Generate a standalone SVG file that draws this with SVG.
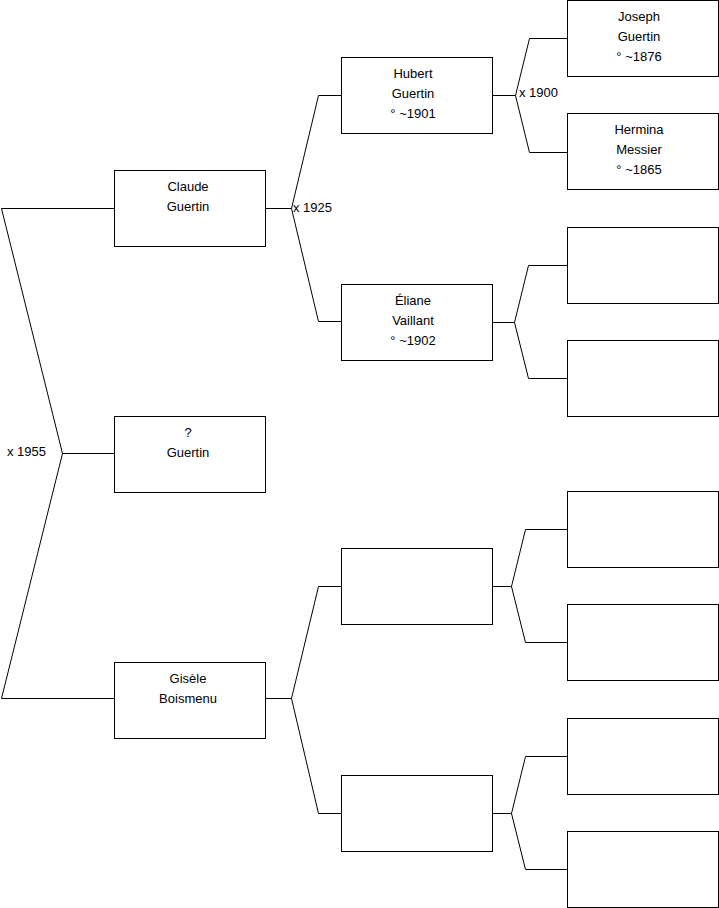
<svg xmlns="http://www.w3.org/2000/svg" width="719" height="908" viewBox="0 0 719 908">
<style>
.box{fill:#fff;stroke:#000;stroke-width:1}
.c{fill:none;stroke:#000;stroke-width:1}
text{font-family:"Liberation Sans",Arial,sans-serif;font-size:13px;fill:#000}
.n{text-anchor:middle}
</style>
<rect width="719" height="908" fill="#fff"/>
<g id="connectors">
<path class="c" d="M114.5,208.5H1.5L62.5,453.5L1.5,698.5H114.5M62.5,453.5H114.5"/>
<path class="c" d="M265.5,208.5H291.5L318.5,95.5H341.5M291.5,208.5L318.5,321.5H341.5"/>
<path class="c" d="M265.5,698.5H291.5L318.5,586.5H341.5M291.5,698.5L318.5,813.5H341.5"/>
<path class="c" d="M492.5,95.5H515.5L529.5,38.5H567.5M515.5,95.5L529.5,152.5H567.5"/>
<path class="c" d="M492.5,322.5H514.5L528.5,265.5H567.5M514.5,322.5L528.5,378.5H567.5"/>
<path class="c" d="M492.5,586.5H511.5L525.5,529.5H567.5M511.5,586.5L525.5,642.5H567.5"/>
<path class="c" d="M492.5,813.5H511.5L525.5,756.5H567.5M511.5,813.5L525.5,869.5H567.5"/>
<text x="7" y="456">x 1955</text>
<text x="293" y="212">x 1925</text>
<text x="519" y="97">x 1900</text>
</g>
<g id="claude"><rect class="box" x="114.5" y="170.5" width="151" height="76"/><text class="n" x="188" y="191">Claude</text><text class="n" x="188" y="211">Guertin</text></g>
<g id="unknown"><rect class="box" x="114.5" y="416.5" width="151" height="76"/><text class="n" x="188" y="437">?</text><text class="n" x="188" y="457">Guertin</text></g>
<g id="gisele"><rect class="box" x="114.5" y="662.5" width="151" height="76"/><text class="n" x="188" y="683">Gisèle</text><text class="n" x="188" y="703">Boismenu</text></g>
<g id="hubert"><rect class="box" x="341.5" y="57.5" width="151" height="76"/><text class="n" x="413" y="78">Hubert</text><text class="n" x="413" y="98">Guertin</text><text class="n" x="413" y="118">° ~1901</text></g>
<g id="eliane"><rect class="box" x="341.5" y="284.5" width="151" height="76"/><text class="n" x="413" y="305">Éliane</text><text class="n" x="413" y="325">Vaillant</text><text class="n" x="413" y="345">° ~1902</text></g>
<g id="g2c"><rect class="box" x="341.5" y="548.5" width="151" height="76"/></g>
<g id="g2d"><rect class="box" x="341.5" y="775.5" width="151" height="76"/></g>
<g id="joseph"><rect class="box" x="567.5" y="0.5" width="151" height="76"/><text class="n" x="639" y="21">Joseph</text><text class="n" x="639" y="41">Guertin</text><text class="n" x="639" y="61">° ~1876</text></g>
<g id="hermina"><rect class="box" x="567.5" y="113.5" width="151" height="76"/><text class="n" x="639" y="134">Hermina</text><text class="n" x="639" y="154">Messier</text><text class="n" x="639" y="174">° ~1865</text></g>
<g id="g3c"><rect class="box" x="567.5" y="227.5" width="151" height="76"/></g>
<g id="g3d"><rect class="box" x="567.5" y="340.5" width="151" height="76"/></g>
<g id="g3e"><rect class="box" x="567.5" y="491.5" width="151" height="76"/></g>
<g id="g3f"><rect class="box" x="567.5" y="604.5" width="151" height="76"/></g>
<g id="g3g"><rect class="box" x="567.5" y="718.5" width="151" height="76"/></g>
<g id="g3h"><rect class="box" x="567.5" y="831.5" width="151" height="76"/></g>
</svg>
